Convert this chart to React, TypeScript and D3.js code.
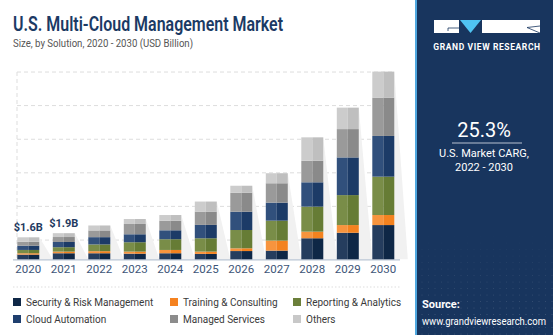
import React from "react";
import * as d3 from "d3";

const years = ["2020","2021","2022","2023","2024","2025","2026","2027","2028","2029","2030"];
const security = [0.34,0.44,0.44,0.41,0.44,0.39,0.60,0.63,1.53,1.93,2.49];
const training = [0.10,0.12,0.15,0.15,0.24,0.17,0.20,0.73,0.48,0.56,0.73];
const reporting = [0.24,0.32,0.49,0.68,0.78,0.97,1.33,1.45,1.82,2.18,2.79];
const cloud = [0.31,0.38,0.53,0.58,0.65,0.97,1.33,1.31,1.77,2.74,2.96];
const managed = [0.29,0.36,0.49,0.75,0.70,0.97,1.38,1.41,1.57,2.06,2.79];
const others = [0.32,0.28,0.36,0.36,0.41,0.73,0.51,0.73,1.70,1.56,1.89];
const seriesNames = ["Security & Risk Management","Training & Consulting","Reporting & Analytics","Cloud Automation","Managed Services","Others"];
const valueLabels = ["$1.6B","$1.9B"];
const gridValues = [1.4,3.85,6.29,8.73,11.18,13.62];

const lightColors = ["#253d5e","#f7943e","#798d48","#31507c","#9a9a9a","#cccccc"];
const darkColors = ["#0e2746","#f3821f","#667c35","#1c3b67","#8a8a8a","#bfbfbf"];
const legendColors = ["#0f2847","#f58220","#6b7f3a","#1f3f6e","#8c8c8c","#c8c8c8"];

const W = 553, H = 335;

export default function App() {
  const seriesData = [security, training, reporting, cloud, managed, others];
  const table = years.map((y, i) => {
    const o: any = { year: y };
    seriesNames.forEach((n, k) => (o[n] = seriesData[k][i]));
    return o;
  });
  const stack = d3.stack<any>().keys(seriesNames)(table);
  const x = d3.scalePoint<string>().domain(years).range([28.3, 383.3]);
  const y = d3.scaleLinear().domain([0, 14]).range([259.3, 259.3 - 14 * 13.75]);
  const bw = 22;
  const gap = x.step() - bw;
  const totals = years.map((_, i) => d3.sum(seriesData, (s) => s[i]));
  const font = "Roboto, 'Noto Sans', sans-serif";

  const legendPos = [
    [13, 306], [170, 306], [293, 306],
    [13, 323], [170, 323], [293, 323],
  ];

  const dots: JSX.Element[] = [];
  for (let yy = 230; yy < 335; yy += 6.5) {
    for (let xx = 422; xx < 553; xx += 6.5) {
      const a = Math.min(1, (yy - 230) / 80) * 0.16;
      dots.push(<circle key={xx + "-" + yy} cx={xx} cy={yy} r={0.6} fill="#ffffff" opacity={a} />);
    }
  }

  return (
    <svg width={W} height={H} style={{ position: "absolute", left: 0, top: 0 }} fontFamily={font}>
      <rect x={0} y={0} width={W} height={H} fill="#ffffff" />
      <text x={13} y={31} fontSize={21} fontWeight={600} fill="#1b3a64" textLength={270} lengthAdjust="spacingAndGlyphs">
        U.S. Multi-Cloud Management Market
      </text>
      <text x={13} y={47} fontSize={11} fill="#555555" textLength={180} lengthAdjust="spacingAndGlyphs">
        Size, by Solution, 2020 - 2030 (USD Billion)
      </text>

      {gridValues.map((g, i) => (
        <line key={i} x1={17} x2={395} y1={y(g)} y2={y(g)} stroke="#dddddd" strokeWidth={1} strokeDasharray="4,3" />
      ))}
      <line x1={17} x2={17} y1={y(gridValues[gridValues.length - 1])} y2={y(0)} stroke="#dddddd" strokeDasharray="4,3" />

      {years.map((yr, i) => {
        const r = (x(yr) as number) + bw / 2;
        const t = y(totals[i]);
        return (
          <polygon key={yr} points={`${r},${t} ${r},${y(0)} ${r + gap},${y(0)}`} fill="#f1f1f1" />
        );
      })}

      <line x1={13} x2={400} y1={y(0) + 0.5} y2={y(0) + 0.5} stroke="#b9c5d3" strokeWidth={1.2} />

      {stack.map((s, k) =>
        s.map((d, i) => {
          const cx = x(years[i]) as number;
          const top = y(d[1]);
          const h = y(d[0]) - y(d[1]);
          return (
            <g key={k + "-" + i}>
              <rect x={cx - bw / 2} y={top} width={bw / 2} height={h} fill={lightColors[k]} />
              <rect x={cx} y={top} width={bw / 2} height={h} fill={darkColors[k]} />
            </g>
          );
        })
      )}

      {valueLabels.map((v, i) => (
        <text key={v} x={x(years[i]) as number} y={y(totals[i]) - 6} textAnchor="middle" fontSize={11} fontWeight={700} fill="#1f3a60">
          {v}
        </text>
      ))}

      {years.map((yr) => (
        <text key={yr} x={x(yr) as number} y={273} textAnchor="middle" fontSize={11.5} fill="#3d5577">
          {yr}
        </text>
      ))}

      <line x1={13} x2={400} y1={287} y2={287} stroke="#dddddd" strokeDasharray="1.5,2" />

      {seriesNames.map((n, k) => (
        <g key={n}>
          <rect x={legendPos[k][0]} y={legendPos[k][1] - 8} width={8} height={8} fill={legendColors[k]} />
          <text x={legendPos[k][0] + 13} y={legendPos[k][1]} fontSize={10} fill="#3a3a3a">{n}</text>
        </g>
      ))}

      <rect x={415} y={0} width={138} height={H} fill="#18355e" />
      <rect x={415} y={0} width={2} height={H} fill="#4fa8e0" />
      {dots}
      <rect x={434} y={20} width={25} height={13} fill="#ffffff" />
      <polyline points="459,28 448,28 448,31" fill="none" stroke="#18355e" strokeWidth={0.8} />
      <polygon points="460,20 481,20 470.5,33" fill="#4fc3f2" />
      <rect x={482} y={20} width={58} height={13} fill="#ffffff" />
      <polyline points="540,26 527,27.5 540,33" fill="none" stroke="#18355e" strokeWidth={0.8} />
      <text x={487} y={50} textAnchor="middle" fontSize={8.5} fontWeight={700} fill="#ffffff" letterSpacing={0.6}>
        GRAND VIEW RESEARCH
      </text>

      <text x={484} y={137} textAnchor="middle" fontSize={20} fill="#ffffff">25.3%</text>
      <line x1={452} x2={522} y1={143} y2={143} stroke="#b8c2d0" strokeWidth={1.2} />
      <text x={484} y={157} textAnchor="middle" fontSize={11} fill="#ffffff">U.S. Market CARG,</text>
      <text x={484} y={171} textAnchor="middle" fontSize={11} fill="#ffffff">2022 - 2030</text>

      <text x={422} y={308} fontSize={11} fontWeight={700} fill="#ffffff">Source:</text>
      <text x={422} y={325} fontSize={10} fill="#ffffff" textLength={124} lengthAdjust="spacingAndGlyphs">www.grandviewresearch.com</text>
    </svg>
  );
}
